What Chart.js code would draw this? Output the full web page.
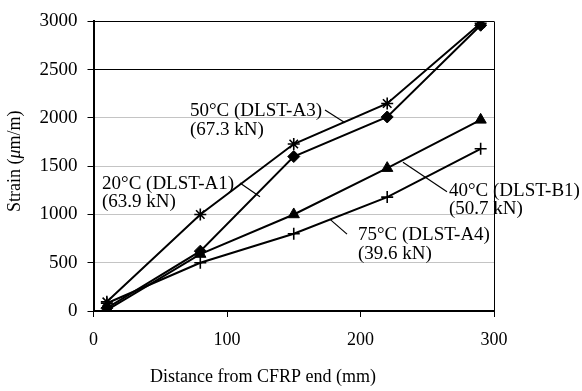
<!DOCTYPE html>
<html>
<head>
<meta charset="utf-8">
<script src="https://cdn.jsdelivr.net/npm/chart.js@4"></script>
<style>
  html, body { margin: 0; padding: 0; background: #fff; }
  #wrap { width: 582px; height: 391px; }
</style>
</head>
<body>
<div id="wrap"><canvas id="chart" width="582" height="391"></canvas></div>
<script>
// Distance from CFRP end (mm)
const distances = [10, 80, 150, 220, 290];

// Strain (um/m) per specimen
const strainA3 = [95, 1000, 1730, 2150, 2980];   // 50°C
const strainA1 = [30, 620, 1600, 2010, 2960];    // 20°C
const strainB1 = [10, 590, 1000, 1480, 1980];    // 40°C
const strainA4 = [80, 500, 800, 1180, 1680];     // 75°C

const yTicks = [0, 500, 1000, 1500, 2000, 2500, 3000];
const xTicks = [0, 100, 200, 300];

const FONT = 'Liberation Serif';

// callout text and leader lines, in data units
const callouts = [
  { lines: ['50°C (DLST-A3)', '(67.3 kN)'], at: [72.3, 2071], leader: [[173.4, 2082], [188.4, 1949]] },
  { lines: ['20°C (DLST-A1)', '(63.9 kN)'], at: [6.4, 1316], leader: [[109.7, 1327], [124.7, 1184]] },
  { lines: ['40°C (DLST-B1)', '(50.7 kN)'], at: [266.3, 1245], leader: [[231.8, 1541], [264.8, 1235]] },
  { lines: ['75°C (DLST-A4)', '(39.6 kN)'], at: [198.1, 786], leader: [[177.2, 949], [189.9, 796]] }
];

function toPoints(ys) {
  return distances.map((x, i) => ({ x: x, y: ys[i] }));
}

function series(label, ys, style, radius, fill) {
  return {
    label: label,
    data: toPoints(ys),
    showLine: true,
    borderColor: '#000',
    borderWidth: 2,
    pointStyle: style,
    pointRadius: radius,
    pointHoverRadius: radius,
    pointBackgroundColor: fill ? '#000' : '#fff',
    pointBorderColor: '#000',
    pointBorderWidth: fill ? 1 : 1.6
  };
}

const annotationPlugin = {
  id: 'callouts',
  afterDatasetsDraw(chart) {
    const ctx = chart.ctx;
    const xs = chart.scales.x;
    const ys = chart.scales.y;
    ctx.save();
    ctx.strokeStyle = '#000';
    ctx.lineWidth = 1.2;
    ctx.fillStyle = '#000';
    ctx.font = '19px "' + FONT + '"';
    ctx.textAlign = 'left';
    ctx.textBaseline = 'middle';
    callouts.forEach(c => {
      ctx.beginPath();
      ctx.moveTo(xs.getPixelForValue(c.leader[0][0]), ys.getPixelForValue(c.leader[0][1]));
      ctx.lineTo(xs.getPixelForValue(c.leader[1][0]), ys.getPixelForValue(c.leader[1][1]));
      ctx.stroke();
      const px = xs.getPixelForValue(c.at[0]);
      const py = ys.getPixelForValue(c.at[1]);
      c.lines.forEach((t, i) => ctx.fillText(t, px, py + i * 18.5));
    });

    // axis titles
    const area = chart.chartArea;
    ctx.font = '18px "' + FONT + '"';
    ctx.textAlign = 'center';
    ctx.fillText('Distance from CFRP end (mm)', 263, 377);

    ctx.translate(15, (area.top + area.bottom) / 2 - 5);
    ctx.rotate(-Math.PI / 2);
    const parts = [
      { t: 'Strain (', f: '18px "' + FONT + '"' },
      { t: 'μ', f: 'italic 18px "' + FONT + '"' },
      { t: 'm/m)', f: '18px "' + FONT + '"' }
    ];
    let total = 0;
    parts.forEach(p => { ctx.font = p.f; p.w = ctx.measureText(p.t).width; total += p.w; });
    let cx = -total / 2;
    ctx.textAlign = 'left';
    parts.forEach(p => { ctx.font = p.f; ctx.fillText(p.t, cx, 0); cx += p.w; });
    ctx.restore();
  }
};

new Chart(document.getElementById('chart'), {
  type: 'scatter',
  data: {
    datasets: [
      series('50°C (DLST-A3)', strainA3, 'star', 6, false),
      series('20°C (DLST-A1)', strainA1, 'rectRot', 6, true),
      series('40°C (DLST-B1)', strainB1, 'triangle', 6.5, true),
      series('75°C (DLST-A4)', strainA4, 'cross', 6, false)
    ]
  },
  options: {
    responsive: false,
    animation: false,
    layout: { padding: { top: 17, right: 88, left: 0, bottom: 0 } },
    plugins: {
      legend: { display: false },
      tooltip: { enabled: false }
    },
    scales: {
      x: {
        type: 'linear',
        min: 0,
        max: 300,
        afterFit(scale) { scale.height = 80; },
        afterBuildTicks(scale) { scale.ticks = xTicks.map(v => ({ value: v })); },
        ticks: {
          color: '#000',
          font: { family: FONT, size: 18 },
          padding: 12,
          maxRotation: 0,
          callback: v => String(v)
        },
        grid: {
          color: c => (c.tick && c.tick.value === 300 ? '#000' : 'rgba(0,0,0,0)'),
          tickColor: '#000',
          tickLength: 6,
          lineWidth: 1
        },
        border: { display: true, color: '#000', width: 2 }
      },
      y: {
        type: 'linear',
        min: 0,
        max: 3000,
        afterFit(scale) { scale.width = 93.5; },
        afterBuildTicks(scale) { scale.ticks = yTicks.map(v => ({ value: v })); },
        ticks: {
          color: '#000',
          font: { family: FONT, size: 19 },
          padding: 10,
          callback: v => String(v)
        },
        grid: {
          color: c => (c.tick && c.tick.value >= 2500 ? '#000' : '#c4c4c4'),
          tickColor: '#000',
          tickLength: 6,
          lineWidth: 1
        },
        border: { display: true, color: '#000', width: 2 }
      }
    }
  },
  plugins: [annotationPlugin]
});
</script>
</body>
</html>
